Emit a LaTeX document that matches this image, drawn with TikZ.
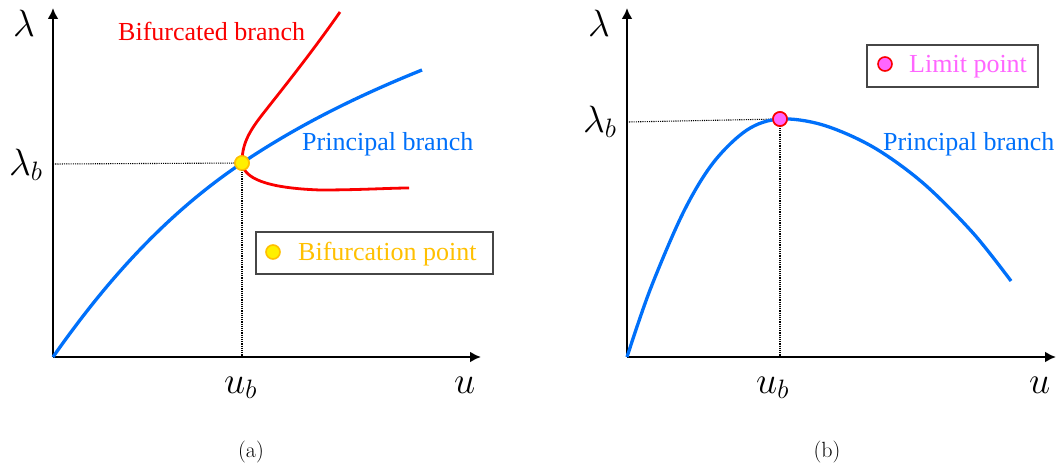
\RequirePackage{fix-cm}
\documentclass[tikz,border=0pt]{standalone}
\usepackage{fontspec}
\newfontfamily\tnr{Liberation Serif}
\usetikzlibrary{arrows.meta}
\definecolor{cblue}{RGB}{0,112,250}
\definecolor{cred}{RGB}{250,0,0}
\definecolor{cgold}{RGB}{255,192,0}
\definecolor{cyel}{RGB}{255,240,0}
\definecolor{cmag}{RGB}{255,102,255}
\definecolor{cbox}{RGB}{70,70,70}
\tikzset{
  axis/.style={line width=2.6pt,-{Latex[length=11pt,width=11pt]}},
  guide/.style={line width=1.1pt,dash pattern=on 1.1pt off 1.1pt},
  bluecurve/.style={cblue,line width=3.3pt},
  redcurve/.style={cred,line width=2.8pt},
  mathlbl/.style={inner sep=0pt,anchor=base west,font=\fontsize{38}{44}\selectfont},
  txtlbl/.style={inner sep=0pt,anchor=base west,font=\tnr\fontsize{26}{30}\selectfont},
  caplbl/.style={inner sep=0pt,anchor=base,font=\fontsize{22}{26}\selectfont},
  bifdot/.style={circle,inner sep=0pt,minimum size=14pt,fill=cyel,draw=cgold,line width=1.6pt},
  limdot/.style={circle,inner sep=0pt,minimum size=14pt,fill=cmag,draw=cred,line width=1.6pt},
  legbox/.style={draw=cbox,line width=1.5pt,fill=white,inner sep=0pt}
}
\begin{document}
\begin{tikzpicture}[x=1pt,y=-1pt]
\useasboundingbox (0,0) rectangle (1059,468);
% ---------------- panel (a)
\coordinate (oa) at (53,357);
\coordinate (ya) at (53,8);
\coordinate (xa) at (481,357);
\coordinate (lya) at (53,164);
\coordinate (lxa) at (242,357);
\coordinate (ea) at (422,70);
\coordinate (ra) at (340,12);
\coordinate (rb) at (409,188);
\draw[axis] (oa) -- (ya);
\draw[axis] (oa) -- (xa);
\node[bifdot] (bp) at (242,163) {};
\draw[guide] (lya) -- (bp.center);
\draw[guide] (bp.center) -- (lxa);
\draw[bluecurve] (oa) .. controls (100,290) and (160,218) .. (bp.center) .. controls (300,124) and (360,95) .. (ea);
\draw[redcurve] (bp.center) .. controls (242,145) and (248,133) .. (262,115) .. controls (280,92) and (310,55) .. (ra);
\draw[redcurve] (bp.center) .. controls (244,178) and (265,188) .. (320,190) .. controls (360,190) and (390,188) .. (rb);
\node[bifdot] (bp2) at (bp) {};
\node[mathlbl] (la) at (13,37) {$\lambda$};
\node[mathlbl] (lba) at (9,175) {$\lambda_b$};
\node[mathlbl] (uba) at (224,393) {$u_b$};
\node[mathlbl] (ua) at (454,393) {$u$};
\node[txtlbl,text=cred] (bb) at (118,41) {Bifurcated branch};
\node[txtlbl,text=cblue] (pba) at (302,150) {Principal branch};
\node[legbox,minimum width=237pt,minimum height=42pt] (lega) at (374.5,253) {};
\node[bifdot] (legdota) at (273,252) {};
\node[txtlbl,text=cgold] (legta) at (298,260) {Bifurcation point};
\node[caplbl] (capa) at (251,457) {(a)};
% ---------------- panel (b)
\coordinate (ob) at (627,357);
\coordinate (yb) at (627,8);
\coordinate (xb) at (1056,357);
\coordinate (lyb) at (627,122);
\coordinate (lxb) at (780,357);
\draw[axis] (ob) -- (yb);
\draw[axis] (ob) -- (xb);
\node[limdot] (lp) at (780,119) {};
\draw[guide] (lyb) -- (lp.center);
\draw[guide] (lp.center) -- (lxb);
\draw[bluecurve] plot[smooth,tension=0.55] coordinates {(627,357) (650,290) (683,213) (713,163) (747,130) (780,119) (823,125) (873,147) (923,183) (973,233) (1011,281)};
\node[limdot] (lp2) at (lp) {};
\node[mathlbl] (lb) at (588,37) {$\lambda$};
\node[mathlbl] (lbb) at (583,132) {$\lambda_b$};
\node[mathlbl] (ubb) at (756,393) {$u_b$};
\node[mathlbl] (ub) at (1029,393) {$u$};
\node[txtlbl,text=cblue] (pbb) at (883,150) {Principal branch};
\node[legbox,minimum width=171pt,minimum height=42pt] (legb) at (952.5,66) {};
\node[limdot] (legdotb) at (885,64) {};
\node[txtlbl,text=cmag] (legtb) at (909,73) {Limit point};
\node[caplbl] (capb) at (827,457) {(b)};
\end{tikzpicture}
\end{document}
